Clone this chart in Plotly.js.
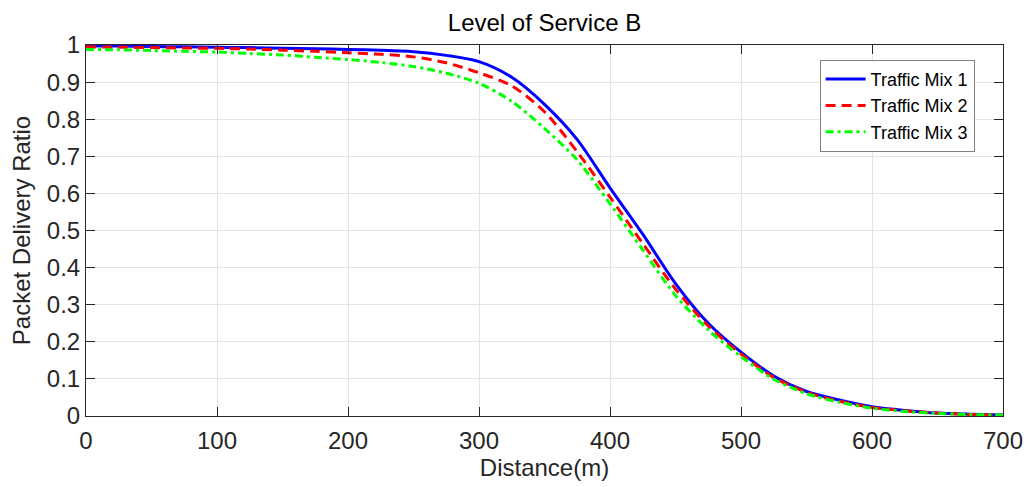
<!DOCTYPE html>
<html>
<head>
<meta charset="utf-8">
<script src="https://cdn.plot.ly/plotly-3.0.1.min.js"></script>
<style>html,body{margin:0;padding:0;background:#fff;}#chart{width:1026px;height:487px;}</style>
</head>
<body>
<div id="chart"></div>
<script>
const distance = [0,25,50,75,100,125,150,175,200,225,250,275,300,325,350,375,400,425,450,475,500,525,550,575,600,625,650,675,700];
const mix1 = [0.997,0.997,0.996,0.995,0.994,0.993,0.991,0.990,0.988,0.986,0.982,0.972,0.955,0.913,0.840,0.745,0.615,0.490,0.357,0.250,0.172,0.108,0.066,0.043,0.025,0.015,0.008,0.005,0.003];
const mix2 = [0.995,0.994,0.993,0.992,0.991,0.989,0.986,0.983,0.979,0.975,0.968,0.952,0.925,0.890,0.820,0.712,0.590,0.465,0.342,0.243,0.167,0.104,0.064,0.040,0.023,0.014,0.008,0.004,0.002];
const mix3 = [0.988,0.987,0.985,0.983,0.981,0.977,0.973,0.967,0.961,0.953,0.942,0.924,0.897,0.848,0.775,0.690,0.572,0.448,0.325,0.232,0.160,0.099,0.060,0.037,0.021,0.012,0.007,0.004,0.002];
const seriesNames = ['Traffic Mix 1','Traffic Mix 2','Traffic Mix 3'];
const xTicks = [0,100,200,300,400,500,600,700];
const yTicks = [0,0.1,0.2,0.3,0.4,0.5,0.6,0.7,0.8,0.9,1];

const font = 'Liberation Sans, Arial, sans-serif';
const traces = [
  {x: distance, y: mix1, name: seriesNames[0], mode: 'lines', line: {color: '#0000ff', width: 3, shape: 'spline', smoothing: 0.8}},
  {x: distance, y: mix2, name: seriesNames[1], mode: 'lines', line: {color: '#ff0000', width: 3, dash: '10px,6px', shape: 'spline', smoothing: 0.8}},
  {x: distance, y: mix3, name: seriesNames[2], mode: 'lines', line: {color: '#00ff00', width: 3, dash: '8px,4px,3px,4px', shape: 'spline', smoothing: 0.8}}
];
const axisCommon = {
  showline: true, linecolor: '#262626', linewidth: 1, mirror: 'ticks',
  ticks: 'inside', ticklen: 9, tickcolor: '#262626', tickwidth: 1,
  showgrid: true, gridcolor: '#e3e3e3', gridwidth: 1, zeroline: false,
  tickfont: {family: font, size: 24, color: '#262626'}
};
const layout = {
  width: 1026, height: 487,
  margin: {l: 86, r: 23, t: 45, b: 71},
  paper_bgcolor: '#ffffff', plot_bgcolor: '#ffffff',
  font: {family: font, color: '#000'},
  title: {text: 'Level of Service B', font: {family: font, size: 24, color: '#000'}, x: 0.5, xref: 'paper', y: 1 - 23/487, yref: 'container', yanchor: 'middle'},
  xaxis: Object.assign({}, axisCommon, {range: [0, 700], tickvals: xTicks, ticklabelstandoff: 3, title: {text: 'Distance(m)', font: {family: font, size: 24, color: '#262626'}, standoff: 0}}),
  yaxis: Object.assign({}, axisCommon, {range: [0, 1], tickvals: yTicks, title: {text: 'Packet Delivery Ratio', font: {family: font, size: 24, color: '#262626'}, standoff: 9}}),
  legend: {x: 0.80, y: 0.96, xanchor: 'left', yanchor: 'top', bgcolor: '#ffffff', bordercolor: '#7f7f7f', borderwidth: 1, font: {family: font, size: 18, color: '#000'}, tracegroupgap: 0, itemwidth: 40},
  showlegend: true
};
Plotly.newPlot('chart', traces, layout, {displayModeBar: false, staticPlot: true});
</script>
</body>
</html>
